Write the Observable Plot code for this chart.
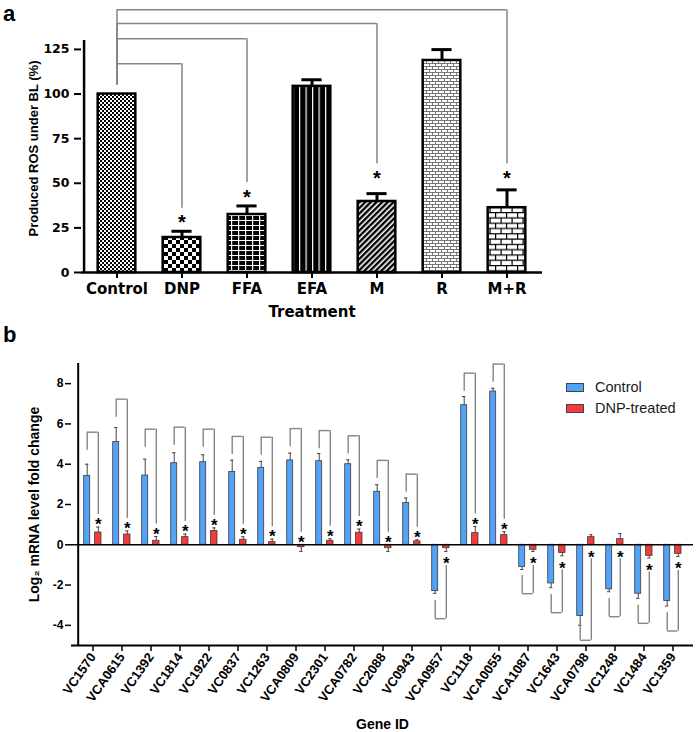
<!DOCTYPE html>
<html>
<head>
<meta charset="utf-8">
<script src="https://cdn.jsdelivr.net/npm/d3@7"></script>
<script src="https://cdn.jsdelivr.net/npm/@observablehq/plot@0.6"></script>
<style>
  body { margin: 0; background: #fff; }
  #fig { position: relative; width: 697px; height: 732px; overflow: hidden; background: #fff;
         font-family: "Liberation Sans", Arial, sans-serif; color: #000; }
  #fig svg { position: absolute; left: 0; overflow: visible; }
  .plabel { position: absolute; left: 3px; font-weight: bold; font-size: 22px; line-height: normal; }
  .leg { position: absolute; left: 566px; height: 20px; line-height: 20px; font-size: 14.5px;
         padding-left: 29px; color: #1a1a1a; white-space: nowrap; }
  .sw { position: absolute; left: 0; top: 5.7px; width: 16px; height: 7.6px; border: 1px solid #444; }
</style>
</head>
<body>
<div id="fig">
  <div class="plabel" style="top:0.5px">a</div>
  <div class="plabel" style="top:321.8px">b</div>
</div>
<script>
// ---------------- Panel a data ----------------
const treatments = ["Control", "DNP", "FFA", "EFA", "M", "R", "M+R"];
const rosMean = [100, 19.6, 32.5, 104.3, 39.8, 118.8, 36.3];
const rosErr = [0, 3.5, 4.8, 3.7, 4.4, 6.1, 10];
const rosTicks = [0, 25, 50, 75, 100, 125];
const sigTargets = ["DNP", "FFA", "M", "M+R"];
const sigBracket = [117, 131, 139.5, 147.3];
const sigStar = [30.5, 45, 55.5, 55.5];

// ---------------- Panel b data ----------------
const genes = ["VC1570", "VCA0615", "VC1392", "VC1814", "VC1922", "VC0837", "VC1263", "VCA0809",
  "VC2301", "VCA0782", "VC2088", "VC0943", "VCA0957", "VC1118", "VCA0055", "VCA1087", "VC1643",
  "VCA0798", "VC1248", "VC1484", "VC1359"];
const controlMean = [3.42, 5.1, 3.44, 4.05, 4.1, 3.61, 3.82, 4.19, 4.15, 4.0, 2.63, 2.07, -2.3,
  6.93, 7.61, -1.1, -1.92, -3.54, -2.21, -2.43, -2.79];
const controlErr = [0.58, 0.72, 0.81, 0.52, 0.37, 0.59, 0.32, 0.36, 0.38, 0.22, 0.35, 0.25, 0.11,
  0.43, 0.16, 0.13, 0.21, 0.46, 0.12, 0.23, 0.25];
const dnpMean = [0.61, 0.51, 0.2, 0.38, 0.69, 0.25, 0.13, -0.12, 0.2, 0.6, -0.17, 0.17, -0.17,
  0.58, 0.48, -0.25, -0.41, 0.38, 0.28, -0.55, -0.45];
const dnpErr = [0.27, 0.18, 0.21, 0.15, 0.15, 0.15, 0.15, 0.21, 0.1, 0.18, 0.16, 0.08, 0.16,
  0.33, 0.17, 0.08, 0.14, 0.12, 0.27, 0.11, 0.13];
const bracketLevel = [5.59, 7.23, 5.74, 5.84, 5.74, 5.38, 5.34, 5.77, 5.67, 5.41, 4.19, 3.51, -3.67,
  8.52, 8.97, -2.43, -3.37, -4.74, -3.57, -3.9, -4.28];
const foldTicks = [-4, -2, 0, 2, 4, 6, 8];
const seriesNames = ["Control", "DNP-treated"];
const seriesColors = ["#52a3f7", "#f33b3b"];

// ---------------- helpers ----------------
const W = 697;
const fig = document.getElementById("fig");
const gray = "#858585";

function styleGroup(svg, label, styles, extraTransform) {
  svg.querySelectorAll(`g[aria-label="${label}"]`).forEach(g => {
    Object.assign(g.style, styles);
    if (extraTransform) g.setAttribute("transform", (g.getAttribute("transform") || "") + " " + extraTransform);
  });
}
function stripArrows(svg) {
  svg.querySelectorAll('g[aria-label="y-axis label"] text, g[aria-label="x-axis label"] text').forEach(t => {
    t.textContent = t.textContent.replace(/\s*[\u2191\u2193\u2190\u2192]\s*/g, "").trim();
  });
}

// ---------------- Panel a ----------------
const aH = 325, aML = 81, aMR = 155, aMT = 40, aMB = 53;
const stepA = (W - aML - aMR) / treatments.length;
const barWA = 38.5, capWA = 21;
const patIds = ["pat-control", "pat-dnp", "pat-ffa", "pat-efa", "pat-m", "pat-r", "pat-mr"];
const rowsA = treatments.map((t, i) => ({t, v: rosMean[i], e: rosErr[i], fill: `url(#${patIds[i]})`}));
const errA = rowsA.filter(d => d.e > 0);
const sigA = sigTargets.map((t, i) => ({t, b: sigBracket[i], s: sigStar[i]}));

const plotA = Plot.plot({
  width: W, height: aH,
  marginLeft: aML, marginRight: aMR, marginTop: aMT, marginBottom: aMB,
  style: {fontFamily: "'DejaVu Sans', sans-serif", fontWeight: "bold", fontSize: "15px", color: "#000", background: "transparent", overflow: "visible"},
  x: {domain: treatments, padding: 0},
  y: {domain: [0, 130]},
  color: {type: "identity"},
  marks: [
    Plot.barY(rowsA, {x: "t", y: "v", fill: "fill", stroke: "#000", strokeWidth: 2.5,
      insetLeft: (stepA - barWA) / 2, insetRight: (stepA - barWA) / 2}),
    Plot.ruleX(errA, {x: "t", y1: "v", y2: d => d.v + d.e, stroke: "#000", strokeWidth: 3}),
    Plot.tickY(errA, {x: "t", y: d => d.v + d.e, stroke: "#000", strokeWidth: 3,
      insetLeft: (stepA - capWA) / 2, insetRight: (stepA - capWA) / 2}),
    // significance brackets
    Plot.ruleX(sigA, {x: () => treatments[0], y1: () => rosMean[0] + 5, y2: "b", stroke: gray, strokeWidth: 1.5}),
    Plot.ruleX(sigA, {x: "t", y1: d => d.s + 5.5, y2: "b", stroke: gray, strokeWidth: 1.5}),
    Plot.ruleY(sigA, {y: "b", x1: () => treatments[0], x2: "t", insetLeft: stepA / 2, insetRight: stepA / 2, stroke: gray, strokeWidth: 1.5}),
    Plot.text(sigA, {x: "t", y: "s", text: () => "*", fontSize: 20, fontFamily: "'Liberation Sans', Arial", fontWeight: "bold", dy: 5}),
    // axes
    Plot.axisY({ticks: rosTicks, tickSize: 7, tickPadding: 5, tickFormat: d => String(d), strokeWidth: 2,
      label: "Produced ROS under BL (%)", labelArrow: "none", labelAnchor: "center", labelOffset: 53}),
    Plot.axisX({tickSize: 6, tickPadding: 5, strokeWidth: 2, label: "Treatment", labelArrow: "none", labelAnchor: "center", labelOffset: 44}),
    Plot.ruleY([0], {stroke: "#000", strokeWidth: 2.5}),
    Plot.ruleX([treatments[0]], {dx: -stepA / 2, y1: 0, y2: 130, stroke: "#000", strokeWidth: 2.5})
  ]
});
plotA.style.top = "0px";
const ns = "http://www.w3.org/2000/svg";
const defs = document.createElementNS(ns, "defs");
defs.innerHTML = `
<pattern id="pat-control" width="4" height="4" patternUnits="userSpaceOnUse">
  <rect width="4" height="4" fill="#fff"/><rect width="2" height="2" fill="#000"/><rect x="2" y="2" width="2" height="2" fill="#000"/>
</pattern>
<pattern id="pat-dnp" width="8" height="8" patternUnits="userSpaceOnUse">
  <rect width="8" height="8" fill="#fff"/><rect width="4" height="4" fill="#000"/><rect x="4" y="4" width="4" height="4" fill="#000"/>
</pattern>
<pattern id="pat-ffa" width="7" height="5" patternUnits="userSpaceOnUse">
  <rect width="7" height="5" fill="#000"/><rect width="7" height="1" fill="#fff"/><rect width="1.2" height="5" fill="#fff"/>
</pattern>
<pattern id="pat-efa" width="6.5" height="6" patternUnits="userSpaceOnUse">
  <rect width="6.5" height="6" fill="#000"/><rect width="1.2" height="6" fill="#fff"/>
</pattern>
<pattern id="pat-m" width="4" height="4" patternUnits="userSpaceOnUse" patternTransform="rotate(45)">
  <rect width="4" height="4" fill="#fff"/><rect width="2.4" height="4" fill="#000"/>
</pattern>
<pattern id="pat-r" width="6" height="6" patternUnits="userSpaceOnUse">
  <rect width="6" height="6" fill="#fff"/>
  <path d="M0 0.5H6M0 3.5H6M0.5 0.5V3.5M3.5 3.5V6.5" stroke="#555" stroke-width="0.8" fill="none"/>
</pattern>
<pattern id="pat-mr" width="11" height="10.6" patternUnits="userSpaceOnUse">
  <rect width="11" height="10.6" fill="#fff"/>
  <path d="M0 0.6H11M0 5.9H11M0.6 0.6V5.9M6.1 5.9V10.6" stroke="#000" stroke-width="1.2" fill="none"/>
</pattern>`;
plotA.insertBefore(defs, plotA.firstChild);
stripArrows(plotA);
styleGroup(plotA, "y-axis tick label", {fontSize: "12.5px", fontFamily: "'DejaVu Sans', sans-serif", fontWeight: "bold"});
styleGroup(plotA, "x-axis tick label", {fontSize: "15px", fontFamily: "'DejaVu Sans', sans-serif", fontWeight: "bold"});
styleGroup(plotA, "y-axis label", {fontSize: "13px", fontFamily: "'Liberation Sans', Arial, sans-serif", fontWeight: "bold"}, "translate(0,-8)");
styleGroup(plotA, "x-axis label", {fontSize: "15px", fontFamily: "'DejaVu Sans', sans-serif", fontWeight: "bold"});
fig.appendChild(plotA);

// ---------------- Panel b ----------------
const bH = 402, bML = 71, bMR = 4, bMT = 33, bMB = 87;
const stepB = (W - bML - bMR) / genes.length;
const pxB = (bH - bMT - bMB) / 14;
const blueOff = -5.8, redOff = 5.3, blueW = 6.6, redW = 7, capWB = 4;
const rowsB = genes.map((g, i) => {
  const c = controlMean[i], ce = controlErr[i], d = dnpMean[i], de = dnpErr[i], br = bracketLevel[i];
  const up = c > 0;
  const cEnd = c + Math.sign(c) * ce;
  const dEnd = d + Math.sign(d) * de;
  const base = up ? Math.max(0, d > 0 ? dEnd : 0) : Math.min(0, d < 0 ? dEnd : 0);
  return {
    g, c, d, cEnd, dEnd, br,
    blueLeg: br - (up ? 0.9 : -0.9),
    redLeg: up ? base + 12.5 / pxB : base - 14 / pxB,
    star: up ? base + 6.5 / pxB : base - 8 / pxB
  };
});
const blueIn = stepB / 2 + blueOff - blueW / 2;
const redIn = stepB / 2 + redOff - redW / 2;

const plotB = Plot.plot({
  width: W, height: bH,
  marginLeft: bML, marginRight: bMR, marginTop: bMT, marginBottom: bMB,
  style: {fontFamily: "'Liberation Sans', Arial, sans-serif", fontWeight: "bold", fontSize: "13px", color: "#000", background: "transparent", overflow: "visible"},
  x: {domain: genes, padding: 0},
  y: {domain: [-5, 9]},
  marks: [
    Plot.barY(rowsB, {x: "g", y: "c", fill: seriesColors[0], stroke: "#3a3a3a", strokeWidth: 0.8,
      insetLeft: blueIn, insetRight: stepB - blueIn - blueW}),
    Plot.barY(rowsB, {x: "g", y: "d", fill: seriesColors[1], stroke: "#3a3a3a", strokeWidth: 0.8,
      insetLeft: redIn, insetRight: stepB - redIn - redW}),
    Plot.ruleX(rowsB, {x: "g", y1: "c", y2: "cEnd", dx: blueOff, stroke: "#444", strokeWidth: 1}),
    Plot.tickY(rowsB, {x: "g", y: "cEnd", dx: blueOff, stroke: "#444", strokeWidth: 1,
      insetLeft: (stepB - capWB) / 2, insetRight: (stepB - capWB) / 2}),
    Plot.ruleX(rowsB, {x: "g", y1: "d", y2: "dEnd", dx: redOff, stroke: "#444", strokeWidth: 1}),
    Plot.tickY(rowsB, {x: "g", y: "dEnd", dx: redOff, stroke: "#444", strokeWidth: 1,
      insetLeft: (stepB - capWB) / 2, insetRight: (stepB - capWB) / 2}),
    // brackets
    Plot.ruleX(rowsB, {x: "g", y1: "br", y2: "blueLeg", dx: blueOff, stroke: gray, strokeWidth: 1.4}),
    Plot.ruleX(rowsB, {x: "g", y1: "br", y2: "redLeg", dx: redOff, stroke: gray, strokeWidth: 1.4}),
    Plot.tickY(rowsB, {x: "g", y: "br", stroke: gray, strokeWidth: 1.4,
      insetLeft: stepB / 2 + blueOff, insetRight: stepB / 2 - redOff}),
    Plot.text(rowsB, {x: "g", y: "star", dx: redOff, dy: 4.3, text: () => "*", fontSize: 17, fontWeight: "bold"}),
    // axes
    Plot.axisY({ticks: foldTicks, tickSize: 6, tickPadding: 2, tickFormat: d => String(d), strokeWidth: 1.5,
      label: "Log\u2082 mRNA level fold change", labelArrow: "none", labelAnchor: "center", labelOffset: 42}),
    Plot.axisX({tickSize: 6, tickPadding: 3, tickRotate: -55, strokeWidth: 1.5,
      label: "Gene ID", labelArrow: "none", labelAnchor: "center", labelOffset: 83}),
    Plot.ruleY([0], {stroke: "#000", strokeWidth: 1.5}),
    Plot.ruleY([-5], {stroke: "#000", strokeWidth: 2}),
    Plot.ruleX([genes[0]], {dx: -stepB / 2, y1: -5, y2: 9, stroke: "#000", strokeWidth: 2})
  ]
});
plotB.style.top = "330px";
stripArrows(plotB);
styleGroup(plotB, "y-axis tick label", {fontSize: "12px"});
styleGroup(plotB, "x-axis tick label", {fontSize: "13px"});
styleGroup(plotB, "y-axis label", {fontSize: "14px"});
styleGroup(plotB, "x-axis label", {fontSize: "14px"});
fig.appendChild(plotB);

// legend (HTML)
const legTops = [377, 398];
seriesNames.forEach((name, i) => {
  const div = document.createElement("div");
  div.className = "leg";
  div.style.top = legTops[i] + "px";
  const sw = document.createElement("span");
  sw.className = "sw";
  sw.style.background = seriesColors[i];
  div.appendChild(sw);
  div.appendChild(document.createTextNode(name));
  fig.appendChild(div);
});
</script>
</body>
</html>
